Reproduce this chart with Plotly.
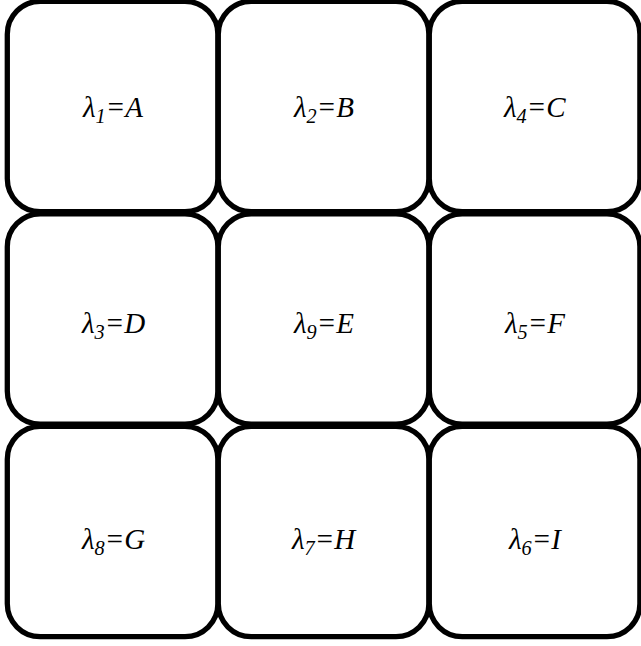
"""3x3 grid of rounded cells, each labelled with an eigenvalue."""

import plotly.graph_objects as go

# cell layout: row, column, subscript index, letter
ROWS = [0, 0, 0, 1, 1, 1, 2, 2, 2]
COLS = [0, 1, 2, 0, 1, 2, 0, 1, 2]
SUBSCRIPTS = ["1", "2", "4", "3", "9", "5", "8", "7", "6"]
LETTERS = ["A", "B", "C", "D", "E", "F", "G", "H", "I"]

BOX_W = 0.998
BOX_H = 0.99
RX = 0.156
RY = 0.155
LABEL_ROW_PITCH = 1.016  # labels sit a touch lower in each following row
K = 0.5523  # bezier circle constant


def rounded_rect(x0, y0, x1, y1, rx, ry):
    """SVG path of a rounded rectangle in data coordinates."""
    cx, cy = rx * (1 - K), ry * (1 - K)
    return (
        f"M {x0 + rx},{y0} L {x1 - rx},{y0} "
        f"C {x1 - cx},{y0} {x1},{y0 + cy} {x1},{y0 + ry} "
        f"L {x1},{y1 - ry} "
        f"C {x1},{y1 - cy} {x1 - cx},{y1} {x1 - rx},{y1} "
        f"L {x0 + rx},{y1} "
        f"C {x0 + cx},{y1} {x0},{y1 - cy} {x0},{y1 - ry} "
        f"L {x0},{y0 + ry} "
        f"C {x0},{y0 + cy} {x0 + cx},{y0} {x0 + rx},{y0} Z"
    )


fig = go.Figure()

for r, c, sub, letter in zip(ROWS, COLS, SUBSCRIPTS, LETTERS):
    fig.add_shape(
        type="path",
        path=rounded_rect(c, r, c + BOX_W, r + BOX_H, RX, RY),
        line=dict(color="black", width=5.3),
        fillcolor="white",
        layer="below",
    )
    fig.add_annotation(
        x=c + BOX_W / 2,
        y=r * LABEL_ROW_PITCH + BOX_H / 2,
        text=f"<i>λ<sub>{sub}</sub>=<i>{letter}</i></i>",
        showarrow=False,
        font=dict(family="Liberation Serif, Times New Roman, serif", size=29, color="black"),
        xanchor="center",
        yanchor="middle",
        yshift=-3,
    )

fig.update_layout(
    width=641,
    height=646,
    margin=dict(l=0, r=0, t=0, b=0),
    plot_bgcolor="white",
    paper_bgcolor="white",
    showlegend=False,
)
fig.update_xaxes(range=[-7.3 / 211, (641 - 7.3) / 211], visible=False, fixedrange=True)
fig.update_yaxes(range=[(646 - 1.3) / 212.5, -1.3 / 212.5], visible=False, fixedrange=True)

fig.write_html(
    "out.html",
    config={"displayModeBar": False},
    post_script="document.body.style.margin='0';",
)
